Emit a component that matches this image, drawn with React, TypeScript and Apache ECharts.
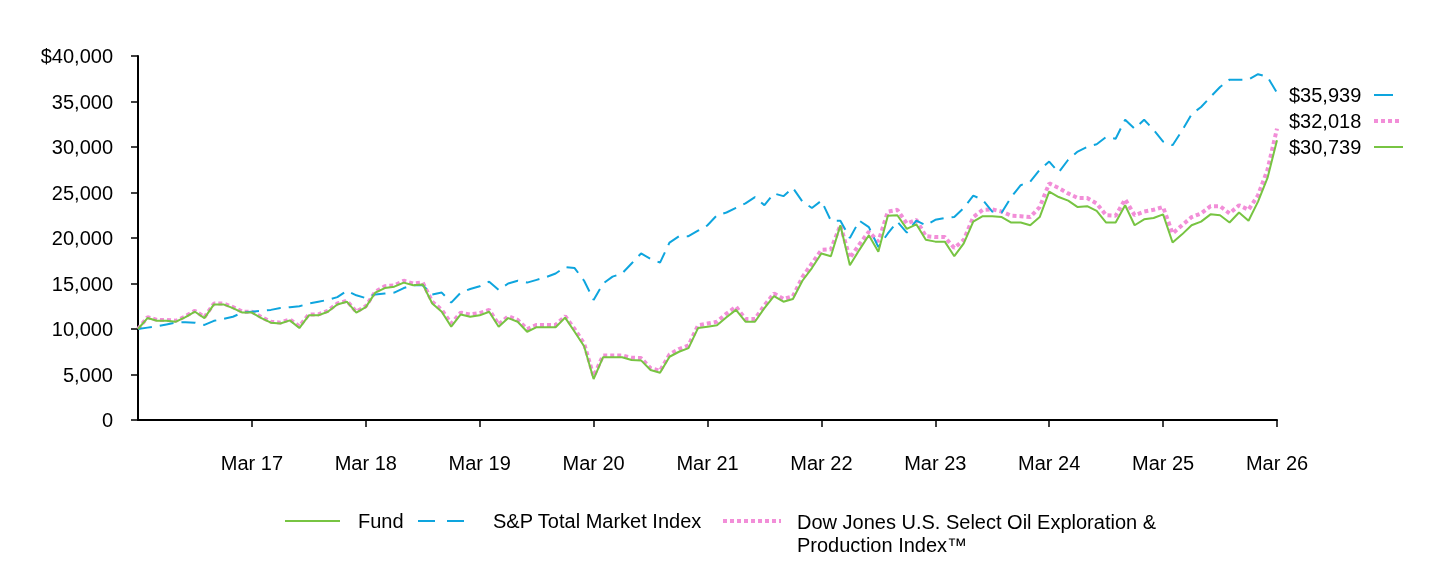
import React, { useEffect, useRef } from "react";
import * as echarts from "echarts";

// Monthly values, Mar 2016 .. Mar 2026 (growth of $10,000)
const fundValues = [
  10000, 11200, 10900, 10900, 10800, 11300, 11900, 11200, 12700, 12700,
  12300, 11800, 11800, 11200, 10700, 10600, 10950, 10100, 11500, 11500,
  11900, 12700, 13000, 11800, 12400, 14000, 14500, 14650, 15100, 14800,
  14900, 12800, 11900, 10250, 11600, 11350, 11500, 11900, 10250, 11200,
  10800, 9700, 10200, 10200, 10200, 11250, 9700, 8100, 4500, 6900,
  6900, 6900, 6600, 6550, 5500, 5200, 6950, 7500, 7900, 10100,
  10250, 10400, 11300, 12100, 10800, 10800, 12300, 13600, 13000, 13300,
  15300, 16700, 18300, 18000, 21400, 17000, 18700, 20300, 18500, 22450,
  22500, 21000, 21500, 19800, 19600, 19600, 18000, 19400, 21800, 22400,
  22400, 22300, 21700, 21700, 21400, 22300, 25100, 24500, 24100, 23400,
  23500, 22970, 21700, 21700, 23600, 21400, 22050, 22200, 22600, 19500,
  20400, 21400, 21800, 22600, 22500, 21700, 22800, 21900, 24000, 26600,
  30739,
];

const spValues = [
  10000, 10150, 10300, 10500, 10700, 10750, 10700, 10450, 10900, 11100,
  11350, 11800, 11900, 12000, 12100, 12300, 12400, 12500, 12800, 13000,
  13200, 13500, 14200, 13700, 13400, 13800, 13900, 14000, 14500, 14800,
  14800, 13800, 14000, 12900, 14000, 14400, 14700, 15200, 14300, 15000,
  15300, 15100, 15400, 15700, 16100, 16800, 16700, 15300, 13200, 15000,
  15750, 16100, 17200, 18300, 17700, 17300, 19500, 20200, 20200, 20800,
  21400, 22500, 22800, 23300, 23800, 24500, 23600, 24900, 24600, 25500,
  24000, 23300, 24100, 21900, 21900, 20000, 21900, 21200, 19000, 20500,
  21800, 20600, 21900, 21400, 22000, 22200, 22300, 23300, 24650, 24200,
  22900, 22800, 24500, 25800, 26200, 27500, 28400, 27200, 28600, 29500,
  30000, 30300, 31100, 30900, 33000, 32000, 33000, 31900, 30600, 30200,
  31800, 33600, 34400, 35500, 36600, 37400, 37400, 37400, 38000, 37700,
  35939,
];

const djValues = [
  10000, 11300, 11000, 11000, 10900, 11400, 12000, 11300, 12800, 12800,
  12400, 11900, 11900, 11300, 10800, 10700, 11050, 10300, 11600, 11600,
  12000, 12800, 13100, 11900, 12500, 14100, 14700, 14800, 15300, 15000,
  15100, 13000, 12100, 10600, 11800, 11600, 11750, 12100, 10500, 11400,
  11000, 10000, 10450, 10450, 10450, 11400, 10000, 8400, 4800, 7100,
  7100, 7100, 6850, 6800, 5700, 5400, 7200, 7800, 8200, 10400,
  10600, 10800, 11700, 12450, 11100, 11100, 12600, 13900, 13300, 13600,
  15700, 17200, 18700, 18750, 21400, 17800, 19300, 20700, 19600, 22900,
  23100, 21600, 22000, 20200, 20100, 20100, 18900, 19800, 22300, 23100,
  23150, 22900, 22450, 22400, 22300, 23400, 26000, 25500, 24900, 24400,
  24400, 23800, 22500, 22450, 24250, 22500, 22900, 23100, 23400, 20500,
  21400, 22300, 22700, 23500, 23500, 22700, 23600, 23100, 24700, 27500,
  32018,
];

const seriesNames = [
  "Fund",
  "S&P Total Market Index",
  "Dow Jones U.S. Select Oil Exploration & Production Index™",
];
const legendTexts = ["Fund", "S&P Total Market Index", "Dow Jones U.S. Select Oil Exploration &\nProduction Index™"];
const endLabels = ["$35,939", "$32,018", "$30,739"];
const monthNames = ["Jan", "Feb", "Mar", "Apr", "May", "Jun", "Jul", "Aug", "Sep", "Oct", "Nov", "Dec"];

const categories = fundValues.map((_, i) => {
  const k = 2 + i;
  return `${monthNames[k % 12]} ${16 + Math.floor(k / 12)}`;
});

const GREEN = "#77c442";
const BLUE = "#0ea5de";
const PINK = "#f28ed8";
const FONT = "Liberation Sans, Arial, sans-serif";

export default function App() {
  const ref = useRef<HTMLDivElement>(null);
  useEffect(() => {
    if (!ref.current) return;
    const chart = echarts.init(ref.current, undefined, { renderer: "svg" });
    const showIdx = (i: number) => i > 0 && i % 12 === 0;
    const txt = (text: string, x: number, y: number, extra: any = {}) => ({
      type: "text",
      x,
      y,
      style: { text, fill: "#000", font: `20px ${FONT}`, textVerticalAlign: "middle", verticalAlign: "middle", lineHeight: 23, ...extra },
    });
    chart.setOption({
      animation: false,
      textStyle: { fontFamily: FONT, color: "#000" },
      grid: { left: 138, right: 163, top: 56, bottom: 144, containLabel: false },
      xAxis: {
        type: "category",
        data: categories,
        boundaryGap: false,
        axisLine: { lineStyle: { color: "#000", width: 2 } },
        axisTick: { show: true, interval: (i: number) => showIdx(i), length: 7, lineStyle: { color: "#000", width: 1.5 } },
        axisLabel: { interval: (i: number) => showIdx(i), margin: 33, fontSize: 20, color: "#000", fontFamily: FONT },
        splitLine: { show: false },
      },
      yAxis: {
        type: "value",
        min: 0,
        max: 40000,
        interval: 5000,
        axisLine: { show: true, lineStyle: { color: "#000", width: 2 } },
        axisTick: { show: true, length: 7, lineStyle: { color: "#000", width: 1.5 } },
        axisLabel: {
          margin: 25,
          fontSize: 20,
          color: "#000",
          fontFamily: FONT,
          formatter: (v: number) => (v === 40000 ? "$40,000" : v.toLocaleString("en-US")),
        },
        splitLine: { show: false },
      },
      series: [
        {
          name: seriesNames[2],
          type: "line",
          data: djValues,
          symbol: "none",
          lineStyle: { color: PINK, width: 4, type: [4, 3] },
          itemStyle: { color: PINK },
          z: 1,
        },
        {
          name: seriesNames[1],
          type: "line",
          data: spValues,
          symbol: "none",
          lineStyle: { color: BLUE, width: 2, type: [14, 8] },
          itemStyle: { color: BLUE },
          z: 2,
        },
        {
          name: seriesNames[0],
          type: "line",
          data: fundValues,
          symbol: "none",
          lineStyle: { color: GREEN, width: 2 },
          itemStyle: { color: GREEN },
          z: 3,
        },
      ],
      graphic: [
        // end-value labels at right
        txt(endLabels[0], 1289, 95),
        txt(endLabels[1], 1289, 121),
        txt(endLabels[2], 1289, 147),
        { type: "line", shape: { x1: 1374, y1: 95, x2: 1393, y2: 95 }, style: { stroke: BLUE, lineWidth: 2 } },
        { type: "line", shape: { x1: 1374, y1: 121, x2: 1402, y2: 121 }, style: { stroke: PINK, lineWidth: 4, lineDash: [4, 3] } },
        { type: "line", shape: { x1: 1374, y1: 147, x2: 1403, y2: 147 }, style: { stroke: GREEN, lineWidth: 2 } },
        // bottom legend
        { type: "line", shape: { x1: 285, y1: 521, x2: 340, y2: 521 }, style: { stroke: GREEN, lineWidth: 2 } },
        txt(legendTexts[0], 358, 521),
        { type: "line", shape: { x1: 418, y1: 521, x2: 466, y2: 521 }, style: { stroke: BLUE, lineWidth: 2, lineDash: [17, 12] } },
        txt(legendTexts[1], 493, 521),
        { type: "line", shape: { x1: 723, y1: 521, x2: 781, y2: 521 }, style: { stroke: PINK, lineWidth: 4, lineDash: [4, 3] } },
        { type: "text", x: 797, y: 510, style: { text: legendTexts[2], fill: "#000", font: `20px ${FONT}`, lineHeight: 23, verticalAlign: "top" } },
      ],
    });
    return () => chart.dispose();
  }, []);
  return <div ref={ref} style={{ position: "fixed", left: 0, top: 0, width: 1440, height: 564 }} />;
}
